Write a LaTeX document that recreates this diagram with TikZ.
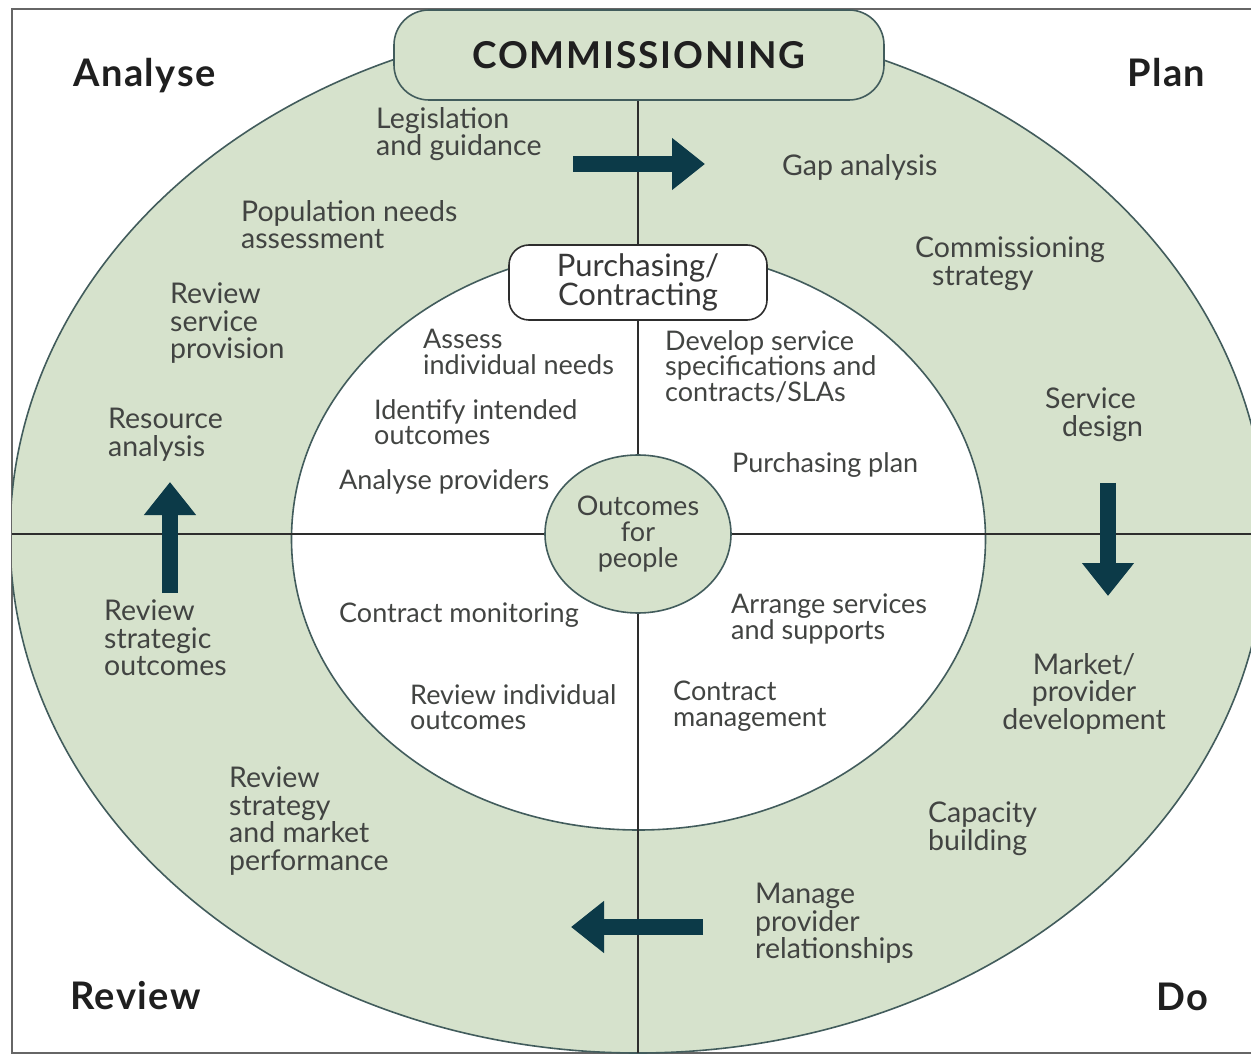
\documentclass[tikz,border=0pt]{standalone}
\usepackage{fontspec}
\setmainfont{Lato}
\usetikzlibrary{arrows.meta,shapes.geometric}
\definecolor{sage}{RGB}{214,226,204}
\definecolor{edgec}{RGB}{66,92,92}
\definecolor{arrowc}{RGB}{12,58,72}
\definecolor{txt}{RGB}{66,68,66}
\definecolor{linec}{RGB}{45,45,45}
\begin{document}
\begin{tikzpicture}[x=1pt,y=-1pt,
  lbl/.style={inner sep=0pt, text=txt, font=\fontsize{28.5}{27.5}\selectfont, align=left, anchor=north west},
  ilbl/.style={lbl, font=\fontsize{27}{25.5}\selectfont},
  corner/.style={inner sep=0pt, font=\fontsize{38}{44}\selectfont\bfseries\addfontfeature{LetterSpace=4}, text=black!88, anchor=base west},
  blockarrow/.style={arrowc, line width=16pt, -{Triangle[width=50pt,length=33pt]}},
  divider/.style={linec, line width=2pt}
]
\useasboundingbox (0,0) rectangle (1251,1056);
\fill[white] (0,0) rectangle (1251,1056);
% frame
\draw[gray!80!black, line width=2.5pt] (1251,9) -- (12,9) -- (12,1053) -- (1251,1053);
% outer and inner rings
\begin{scope}
\clip (12,9) rectangle (1251,1053);
\draw[edgec, line width=1.6pt, fill=sage] (638,536) ellipse [x radius=628, y radius=517];
\end{scope}
\draw[edgec, line width=1.6pt, fill=white] (638.5,539) ellipse [x radius=347, y radius=291];
% central nodes
\node[draw=edgec, line width=1.6pt, fill=sage, rounded corners=35pt, minimum width=490pt, minimum height=90pt, inner sep=0pt,
      font=\fontsize{37}{42}\selectfont\bfseries\addfontfeature{LetterSpace=5}, text=black!88] (comm) at (639,55) {COMMISSIONING};
\node[draw=linec, line width=1.6pt, fill=white, rounded corners=20pt, minimum width=258pt, minimum height=75pt, inner sep=0pt,
      align=center, font=\fontsize{31}{29}\selectfont, text=black!78] (purch) at (638,282.5) {Purchasing/\\Contracting};
\node[ellipse, draw=edgec, line width=1.6pt, fill=sage, minimum width=186pt, minimum height=158pt, inner sep=0pt,
      align=center, font=\fontsize{27}{26}\selectfont, text=txt] (outc) at (638,534) {Outcomes\\for\\people};
% dividing lines
\coordinate (lft) at (12,534);
\coordinate (rgt) at (1251,534);
\coordinate (bot) at (638,1053);
\draw[divider] (comm.south -| purch.north) -- (purch.north);
\draw[divider] (purch.south) -- (outc.north);
\draw[divider] (outc.south) -- (bot);
\draw[divider] (lft) -- (outc.west);
\draw[divider] (outc.east) -- (rgt);
% block arrows
\coordinate (a1s) at (573,164); \coordinate (a1e) at (705,164);
\coordinate (a2s) at (1108,483); \coordinate (a2e) at (1108,596);
\coordinate (a3s) at (703,927); \coordinate (a3e) at (571,927);
\coordinate (a4s) at (170,593); \coordinate (a4e) at (170,482);
\draw[blockarrow] (a1s) -- (a1e);
\draw[blockarrow] (a2s) -- (a2e);
\draw[blockarrow] (a3s) -- (a3e);
\draw[blockarrow] (a4s) -- (a4e);
% corner labels
\node[corner] (an) at (73,87) {Analyse};
\node[corner] (pl) at (1127,87) {Plan};
\node[corner] (rv) at (70,1009) {Review};
\node[corner] (do) at (1156,1010) {Do};
% outer ring labels
\node[lbl] (t1) at (376,107) {Legislation\\and guidance};
\node[lbl] (t2) at (782,154) {Gap analysis};
\node[lbl] (t3) at (241,200) {Population needs\\assessment};
\node[lbl] (t4) at (915,237) {Commissioning\\\hspace*{17pt}strategy};
\node[lbl] (t5) at (170,283) {Review\\service\\provision};
\node[lbl] (t6) at (108,408) {Resource\\analysis};
\node[lbl] (t7) at (1045,388) {Service\\\hspace*{17pt}design};
\node[lbl] (t8) at (104,600) {Review\\strategic\\outcomes};
\node[lbl, align=center, anchor=north] (t9) at (1084,653) {Market/\\provider\\development};
\node[lbl] (t10) at (229,767) {Review\\strategy\\and market\\performance};
\node[lbl] (t11) at (928,802) {Capacity\\building};
\node[lbl] (t12) at (755,883) {Manage\\provider\\relationships};
% inner ring labels
\node[ilbl] (i1) at (423,329) {Assess\\individual needs};
\node[ilbl] (i2) at (374,399) {Identify intended\\outcomes};
\node[ilbl] (i3) at (339,469) {Analyse providers};
\node[ilbl] (i4) at (665,330) {Develop service\\specifications and\\contracts/SLAs};
\node[ilbl] (i5) at (732,452) {Purchasing plan};
\node[ilbl] (i6) at (339,603) {Contract monitoring};
\node[ilbl] (i7) at (410,684) {Review individual\\outcomes};
\node[ilbl] (i8) at (731,594) {Arrange services\\and supports};
\node[ilbl] (i9) at (673,681) {Contract\\management};
\end{tikzpicture}
\end{document}
